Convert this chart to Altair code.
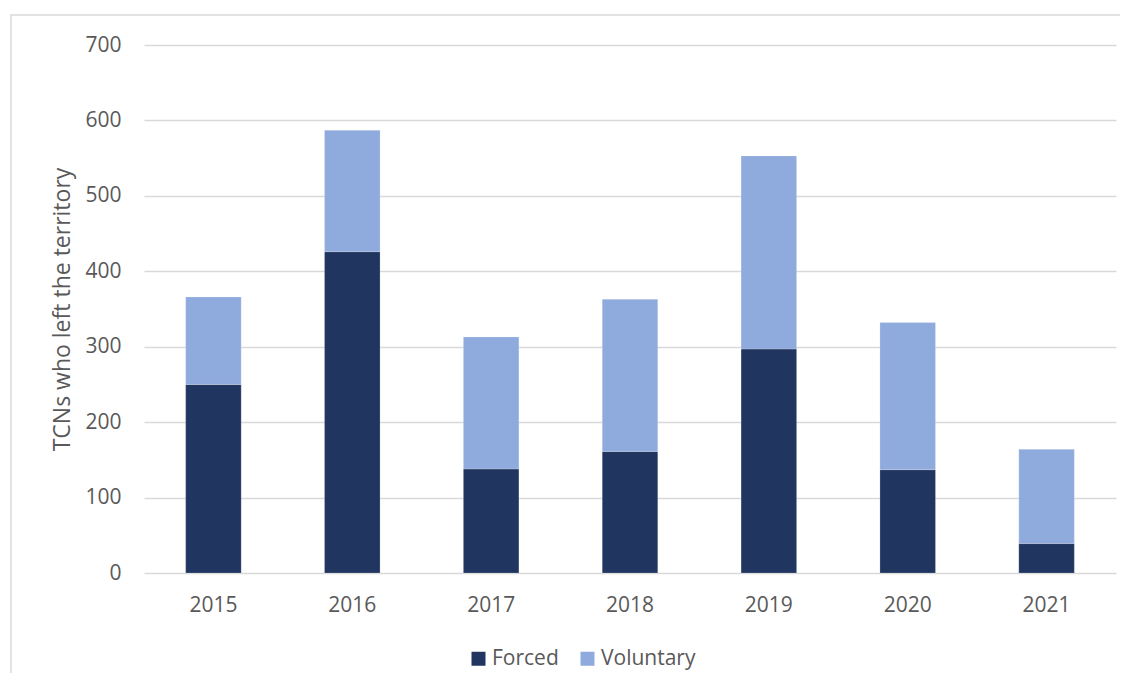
import altair as alt
import pandas as pd

years = ["2015", "2016", "2017", "2018", "2019", "2020", "2021"]
forced = [250, 426, 138, 161, 297, 137, 39]
totals = [366, 587, 313, 363, 553, 332, 164]
voluntary = [t - f for t, f in zip(totals, forced)]

series = ["Forced", "Voluntary"]
colors = ["#203560", "#8FAADC"]

rows = []
for i, y in enumerate(years):
    rows.append({"year": y, "type": "Forced", "value": forced[i], "order": 0})
    rows.append({"year": y, "type": "Voluntary", "value": voluntary[i], "order": 1})
df = pd.DataFrame(rows)

FONT = "Open Sans"
TXT = "#595959"

bars = alt.Chart(df).mark_bar(stroke="#ffffff", strokeWidth=0.4, strokeOpacity=0.5).encode(
    x=alt.X("year:N", sort=years, title=None,
            scale=alt.Scale(paddingInner=0.6, paddingOuter=0.3),
            axis=alt.Axis(labelAngle=0, ticks=False, domain=False, grid=False,
                          labelPadding=21, labelFontSize=21, labelColor=TXT, labelFont=FONT)),
    y=alt.Y("value:Q", stack="zero", title="TCNs who left the territory",
            scale=alt.Scale(domain=[0, 700], nice=False),
            axis=alt.Axis(values=[0, 100, 200, 300, 400, 500, 600, 700], ticks=False, domain=False,
                          gridColor="#d9d9d9", gridWidth=1.5,
                          labelPadding=23, labelFontSize=21, labelColor=TXT, labelFont=FONT,
                          titleFontSize=23, titleColor=TXT, titleFont=FONT, titleFontWeight="normal",
                          titlePadding=10)),
    color=alt.Color("type:N", sort=series,
                    scale=alt.Scale(domain=series, range=colors),
                    legend=alt.Legend(title=None, orient="none", direction="horizontal",
                                      legendX=324, legendY=603,
                                      symbolType="square", symbolSize=196, symbolStrokeWidth=0,
                                      labelFontSize=21, labelColor=TXT, labelFont=FONT,
                                      labelOffset=3, columnPadding=18)),
    order=alt.Order("order:Q", sort="ascending"),
)

border = alt.Chart(alt.Data(values=[{"a": 1}])).mark_rect(
    filled=False, stroke="#d9d9d9", strokeWidth=1.5
).encode(
    x=alt.value(-133), x2=alt.value(1100), y=alt.value(-30), y2=alt.value(760)
)

chart = alt.layer(border, bars).properties(
    width=972, height=528,
    padding={"left": 136, "top": 37, "right": 4, "bottom": 100},
    autosize=alt.AutoSizeParams(type="none"),
    background="#ffffff",
).configure_view(strokeWidth=0, strokeOpacity=0)

chart.save("out.html", embed_options={"renderer": "svg", "actions": False})
